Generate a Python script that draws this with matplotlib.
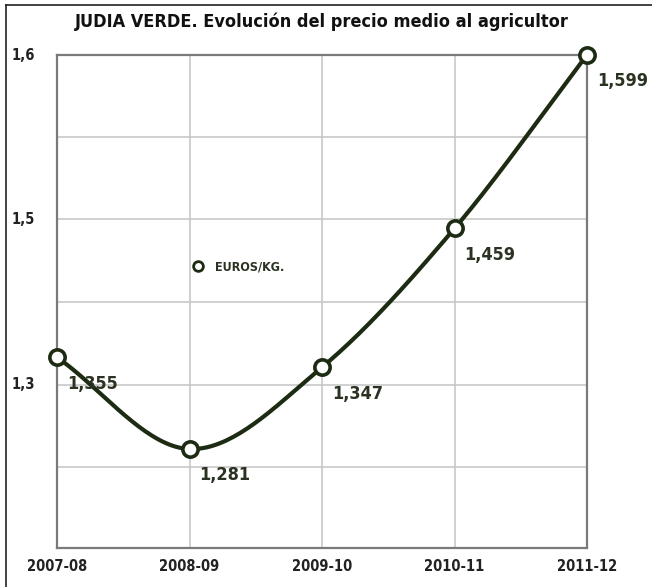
import numpy as np
import matplotlib
matplotlib.use("Agg")
import matplotlib.pyplot as plt
from matplotlib.lines import Line2D
import matplotlib.transforms as mtransforms

categories = ["2007-08", "2008-09", "2009-10", "2010-11", "2011-12"]
values = [1.355, 1.281, 1.347, 1.459, 1.599]
value_labels = ["1,355", "1,281", "1,347", "1,459", "1,599"]
ytick_values = [1.599, 1.5328, 1.4666, 1.4, 1.3327, 1.2665, 1.2011]
ytick_labels = ["1,6", "", "1,5", "", "1,3", "", ""]
title = "JUDIA VERDE. Evolución del precio medio al agricultor"
legend_label = "EUROS/KG."

FONT = ["DejaVu Sans"]
STRETCH = "condensed"
LINE = "#1c2b12"
TXT = "#2a3322"

fig = plt.figure(figsize=(6.52, 5.87), dpi=100)
ax = fig.add_axes([57/652, 1-548/587, (587-57)/652, (548-55)/587])

x = np.arange(len(categories))
y = np.array(values)

def catmull(xp, yp, n=40):
    P = np.column_stack([xp, yp]).astype(float)
    P = np.vstack([2*P[0]-P[1], P, 2*P[-1]-P[-2]])
    out = []
    for i in range(1, len(P)-2):
        p0, p1, p2, p3 = P[i-1], P[i], P[i+1], P[i+2]
        t = np.linspace(0, 1, n)[:, None]
        pts = 0.5*((2*p1) + (-p0+p2)*t + (2*p0-5*p1+4*p2-p3)*t**2 + (-p0+3*p1-3*p2+p3)*t**3)
        out.append(pts if i == 1 else pts[1:])
    return np.vstack(out)

c = catmull(x, y)
ax.plot(c[:, 0], c[:, 1], color=LINE, lw=3, solid_capstyle="round", clip_on=False, zorder=3)
ax.plot(x, y, linestyle="none", marker="o", ms=11, mfc="white", mec=LINE, mew=2.6,
        clip_on=False, zorder=4)

for xi, yi, lab in zip(x, y, value_labels):
    ax.annotate(lab, (xi, yi), xytext=(7, -19), textcoords="offset points",
                ha="left", va="center", fontsize=13, fontweight="bold", fontstretch=STRETCH,
                color=TXT, family=FONT, zorder=5)

ax.set_xlim(0, len(categories)-1)
ax.set_ylim(ytick_values[-1], ytick_values[0])
ax.set_xticks(x)
ax.set_xticklabels(categories, family=FONT, fontweight="bold", fontsize=10.5, fontstretch=STRETCH,
                   color="#222222")
ax.set_yticks(ytick_values)
ax.set_yticklabels([])
trans = mtransforms.blended_transform_factory(fig.transFigure, ax.transData)
for v, lab in zip(ytick_values, ytick_labels):
    if lab:
        fig.text(12/652, v, lab, transform=trans, ha="left", va="center", fontsize=10.5,
                 fontweight="bold", fontstretch=STRETCH, family=FONT, color="#222222")
ax.tick_params(length=0, pad=8)
ax.grid(True, color="#c8c8c8", lw=1.2)
for s in ax.spines.values():
    s.set_color("#7a7a7a")
    s.set_linewidth(1.6)

h = Line2D([], [], linestyle="none", marker="o", ms=7, mfc="white", mec=LINE, mew=2)
leg = ax.legend([h], [legend_label], loc="upper left", bbox_to_anchor=(128/530, 1-(265-55)/493+0.022),
                frameon=False, handletextpad=0.9, borderpad=0, handlelength=1.0,
                prop={"family": FONT, "weight": "bold", "size": 9, "stretch": STRETCH})
for t in leg.get_texts():
    t.set_color(TXT)

fig.text(322/652, 1-22/587, title, ha="center", va="center", fontsize=13,
         fontweight="bold", fontstretch=STRETCH, family=FONT, color="#111111")

fig.add_artist(Line2D([6/652, 1], [1-5/587, 1-5/587], color="#222222", lw=1.2))
fig.add_artist(Line2D([6/652, 6/652], [0, 1-5/587], color="#222222", lw=1.2))

fig.savefig("out.png", dpi=100)
